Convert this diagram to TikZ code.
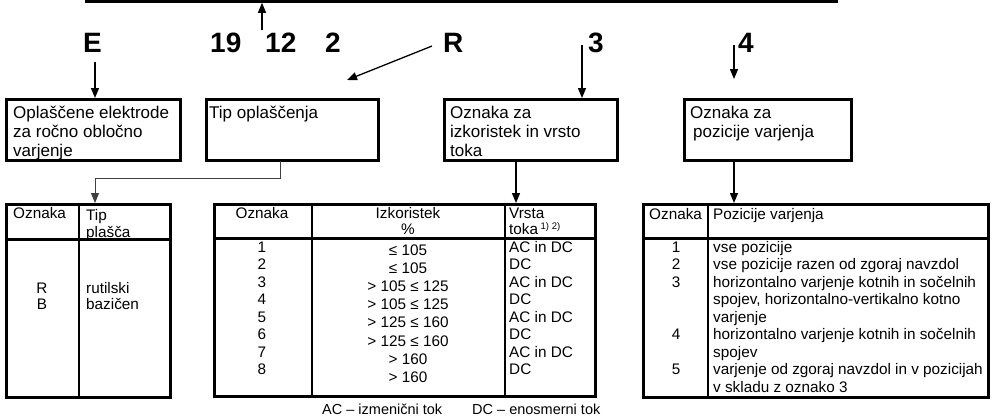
\documentclass[tikz,border=0pt]{standalone}
\usepackage{fontspec}
\setmainfont{Liberation Sans}
\usetikzlibrary{arrows.meta}
\tikzset{
  frame/.style={draw, line width=2.6pt, inner sep=0pt},
  rulel/.style={line width=2.6pt},
  btxt/.style={anchor=base west, inner sep=0pt, font=\fontsize{17}{19.5}\selectfont},
  txt/.style={anchor=base west, inner sep=0pt, font=\fontsize{15.3}{17.5}\selectfont},
  ctxt/.style={anchor=base, inner sep=0pt, font=\fontsize{15.3}{17.5}\selectfont},
  big/.style={anchor=base west, inner sep=0pt, font=\fontsize{28}{28}\selectfont\bfseries},
  arr/.style={line width=1.3pt, -{Triangle[length=10pt,width=8pt]}},
  garr/.style={line width=1pt, draw=black!75, -{Triangle[length=10pt,width=8pt]}},
  note/.style={anchor=base west, inner sep=0pt, font=\fontsize{14.5}{16}\selectfont},
}
\begin{document}
\begin{tikzpicture}[x=1pt,y=-1pt]
\useasboundingbox (0,0) rectangle (993,416);
% top box (cut off)
\node[frame, minimum width=750.4pt, minimum height=31.5pt] (topbox) at (461.5,-14.25) {};
\draw[line width=0.8pt] (472,-5) -- (472,1.5);
\draw[line width=0.8pt] (515,-5) -- (515,1.5);
% big code letters
\node[big] (lE) at (83,52) {E};
\node[big] (l19) at (210,52) {19};
\node[big] (l12) at (265,52) {12};
\node[big] (l2) at (325,52) {2};
\node[big] (lR) at (443,52) {R};
\node[big] (l3) at (588,52) {3};
\node[big] (l4) at (738,52) {4};
% boxes
\node[frame, minimum width=174.4pt, minimum height=61.4pt] (b1) at (93.5,130) {};
\node[frame, minimum width=172.4pt, minimum height=61.4pt] (b2) at (292.5,130) {};
\node[frame, minimum width=173.4pt, minimum height=61.4pt] (b3) at (531,130) {};
\node[frame, minimum width=167.4pt, minimum height=61.4pt] (b4) at (768,130) {};
\node[btxt] (b1a) at (13,118) {Oplaščene elektrode};
\node[btxt] (b1b) at (13,137) {za ročno obločno};
\node[btxt] (b1c) at (13,156.5) {varjenje};
\node[btxt] (b2a) at (209,118) {Tip oplaščenja};
\node[btxt] (b3a) at (450,118) {Oznaka za};
\node[btxt] (b3b) at (450,137) {izkoristek in vrsto};
\node[btxt] (b3c) at (450,156.5) {toka};
\node[btxt] (b4a) at (690,118) {Oznaka za};
\node[btxt] (b4b) at (693,137) {pozicije varjenja};
% arrow coordinates
\coordinate (upS) at (262,30);
\coordinate (eS) at (95,62);
\coordinate (rS) at (432,46);
\coordinate (rE) at (347,80);
\coordinate (tS) at (582,45);
\coordinate (fS) at (734,45);
\coordinate (fE) at (734,79);
\coordinate (b2S) at (280,161);
\coordinate (elb) at (280,178);
% tables
\node[frame, minimum width=164.4pt, minimum height=193.4pt] (t1) at (88.5,301) {};
\node[frame, minimum width=381.4pt, minimum height=192.4pt] (t2) at (405,300.5) {};
\node[frame, minimum width=345.4pt, minimum height=193.4pt] (t3) at (816,301) {};
\draw[rulel] (5,239.5) -- (172,239.5);
\draw[rulel] (79,203) -- (79,399);
\draw[rulel] (213,238.5) -- (597,238.5);
\draw[rulel] (312,203) -- (312,398);
\draw[rulel] (505,203) -- (505,398);
\draw[rulel] (642,238.5) -- (990,238.5);
\draw[rulel] (708,203) -- (708,399);
% arrows
\draw[arr] (upS) -- (topbox.south -| upS);
\draw[arr] (eS) -- (b1.north -| eS);
\draw[arr] (rS) -- (rE);
\draw[arr] (tS) -- (b3.north -| tS);
\draw[arr] (fS) -- (fE);
\draw[garr] (b2S) -- (elb) -| (t1.north -| eS);
\draw[arr] (b3.south -| 516,0) -- (t2.north -| 516,0);
\draw[arr] (b4.south -| fS) -- (t3.north -| fS);
% table 1 text
\node[txt] (t1h1) at (13,218) {Oznaka};
\node[txt] (t1h2) at (86,220) {Tip};
\node[txt] (t1h3) at (86,237) {plašča};
\node[ctxt] (t1r1) at (42,293) {R};
\node[ctxt] (t1r2) at (42,309) {B};
\node[txt] (t1s1) at (86,293) {rutilski};
\node[txt] (t1s2) at (86,309) {bazičen};
% table 2 text
\node[ctxt] (t2h1) at (262,218) {Oznaka};
\node[ctxt] (t2h2) at (408,218) {Izkoristek};
\node[ctxt] (t2h3) at (408,234) {\%};
\node[txt] (t2h4) at (509,218) {Vrsta};
\node[txt] (t2h5) at (509,234) {toka\,\raisebox{5pt}{\fontsize{9.5}{9.5}\selectfont 1) 2)}};
\foreach \n/\v/\c [count=\i from 0] in {1/{≤ 105}/AC in DC, 2/{≤ 105}/DC, 3/{> 105 ≤ 125}/AC in DC, 4/{> 105 ≤ 125}/DC, 5/{> 125 ≤ 160}/AC in DC, 6/{> 125 ≤ 160}/DC, 7/{> 160}/AC in DC, 8/{> 160}/DC}{
  \node[ctxt] (t2n\i) at (262,252+17.5*\i) {\n};
  \node[ctxt] (t2v\i) at (408,255+18.2*\i) {\v};
  \node[txt] (t2c\i) at (509,252+17.5*\i) {\c};
}
\node[note] (acn) at (322,414) {AC – izmenični tok};
\node[note] (dcn) at (472,414) {DC – enosmerni tok};
% table 3 text
\node[txt] (t3h1) at (649,219) {Oznaka};
\node[txt] (t3h2) at (713,219) {Pozicije varjenja};
\foreach \n/\t [count=\i from 0] in {1/vse pozicije, 2/vse pozicije razen od zgoraj navzdol, 3/horizontalno varjenje kotnih in sočelnih, {}/{spojev, horizontalno-vertikalno kotno}, {}/varjenje, 4/horizontalno varjenje kotnih in sočelnih, {}/spojev, 5/varjenje od zgoraj navzdol in v pozicijah, {}/v skladu z oznako 3}{
  \node[ctxt] (t3n\i) at (676,252+17.5*\i) {\n};
  \node[txt] (t3t\i) at (713,252+17.5*\i) {\t};
}
\end{tikzpicture}
\end{document}
